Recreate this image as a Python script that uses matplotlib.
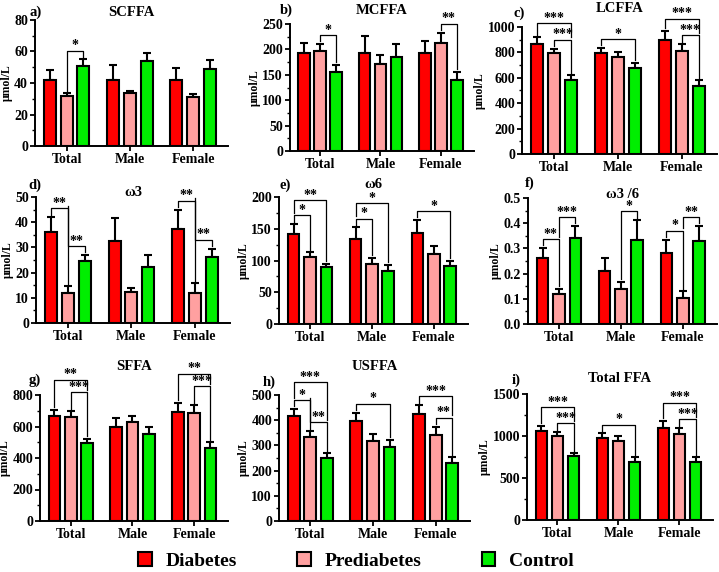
import numpy as np
import matplotlib
matplotlib.use('Agg')
import matplotlib.pyplot as plt
from matplotlib.patches import Patch
from matplotlib.ticker import MultipleLocator, FormatStrFormatter

plt.rcParams['font.family'] = ['Liberation Serif', 'DejaVu Serif']
plt.rcParams['font.weight'] = 'bold'

groups = ['Total', 'Male', 'Female']
series = ['Diabetes', 'Prediabetes', 'Control']
colors = ['#FF0000', '#FFA0A0', '#00EE00']

# means[group][series], sem[group][series]
scffa_mean = [[42, 32, 51], [42, 33.5, 54], [42, 31, 49]]
scffa_sem = [[6, 1.5, 4], [9.5, 1.5, 5], [7.5, 2, 5.5]]
mcffa_mean = [[192, 196, 156], [192, 172, 185], [192, 212, 140]]
mcffa_sem = [[21, 15, 14], [35, 16, 26], [25, 21, 16]]
lcffa_mean = [[870, 795, 585], [795, 765, 680], [900, 810, 535]]
lcffa_sem = [[50, 35, 35], [40, 40, 40], [70, 55, 45]]
w3_mean = [[36, 12, 24.5], [32.5, 12.3, 22.3], [37.5, 12, 26]]
w3_sem = [[6, 2.5, 2.5], [9, 1.5, 4.7], [7.5, 3.8, 3.5]]
w6_mean = [[142, 105, 89], [134, 95, 84], [144, 111, 91]]
w6_sem = [[15, 8, 6], [18, 9, 9], [20, 12, 9]]
ratio_mean = [[0.262, 0.12, 0.342], [0.212, 0.14, 0.335], [0.28, 0.103, 0.33]]
ratio_sem = [[0.04, 0.02, 0.048], [0.05, 0.028, 0.077], [0.055, 0.027, 0.06]]
sffa_mean = [[665, 660, 495], [600, 630, 555], [695, 685, 462]]
sffa_sem = [[40, 38, 27], [55, 38, 45], [55, 50, 38]]
usffa_mean = [[418, 333, 250], [395, 317, 292], [425, 343, 230]]
usffa_sem = [[27, 24, 18], [35, 28, 30], [35, 32, 22]]
tffa_mean = [[1065, 995, 760], [975, 945, 695], [1100, 1025, 695]]
tffa_sem = [[60, 50, 35], [55, 55, 50], [80, 70, 50]]

# significance: (group, bar i, bar j, label)
scffa_sig = [(0, 1, 2, '*')]
mcffa_sig = [(0, 1, 2, '*'), (2, 1, 2, '**')]
lcffa_sig = [(0, 1, 2, '***'), (0, 0, 2, '***'), (1, 0, 2, '*'), (2, 1, 2, '***'), (2, 0, 2, '***')]
w3_sig = [(0, 0, 1, '**'), (0, 1, 2, '**'), (2, 0, 1, '**'), (2, 1, 2, '**')]
w6_sig = [(0, 0, 1, '*'), (0, 0, 2, '**'), (1, 0, 1, '*'), (1, 0, 2, '*'), (2, 0, 2, '*')]
ratio_sig = [(0, 0, 1, '**'), (0, 1, 2, '***'), (1, 1, 2, '*'), (2, 0, 1, '*'), (2, 1, 2, '**')]
sffa_sig = [(0, 1, 2, '***'), (0, 0, 2, '**'), (2, 1, 2, '***'), (2, 0, 2, '**')]
usffa_sig = [(0, 0, 1, '*'), (0, 1, 2, '**'), (0, 0, 2, '***'), (1, 0, 2, '*'), (2, 1, 2, '**'), (2, 0, 2, '***')]
tffa_sig = [(0, 1, 2, '***'), (0, 0, 2, '***'), (1, 0, 2, '*'), (2, 1, 2, '***'), (2, 0, 2, '***')]

W, H = 719, 572

# (label, title, mean, sem, sig, ymax, ystep, rect px (l, t, r, b), title y px, label xy px, pad, step)
panels = [
    ('a)', 'SCFFA', scffa_mean, scffa_sem, scffa_sig, 80, 20, (35, 20, 228, 146), 12, (30, 12), 0.07, 0.13),
    ('b)', 'MCFFA', mcffa_mean, mcffa_sem, mcffa_sig, 250, 50, (290, 24, 474, 151), 11, (280, 10), 0.07, 0.13),
    ('c)', 'LCFFA', lcffa_mean, lcffa_sem, lcffa_sig, 1000, 200, (522, 27, 717, 154), 8, (513, 13), 0.07, 0.13),
    ('d)', 'ω3', w3_mean, w3_sem, w3_sig, 50, 10, (36, 197, 230, 323), 193, (28, 185), 0.07, 0.13),
    ('e)', 'ω6', w6_mean, w6_sem, w6_sig, 200, 50, (279, 197, 468, 324), 184, (279, 185), 0.07, 0.12),
    ('f)', 'ω3 /6', ratio_mean, ratio_sem, ratio_sig, 0.5, 0.1, (528, 198, 717, 324), 195, (525, 183), 0.07, 0.13),
    ('g)', 'SFFA', sffa_mean, sffa_sem, sffa_sig, 800, 200, (40, 395, 228, 521), 367, (29, 380), 0.15, 0.10),
    ('h)', 'USFFA', usffa_mean, usffa_sem, usffa_sig, 500, 100, (279, 395, 470, 521), 367, (263, 382), 0.07, 0.14),
    ('i)', 'Total FFA', tffa_mean, tffa_sem, tffa_sig, 1500, 500, (527, 394, 713, 520), 378, (512, 380), 0.07, 0.13),
]

fig = plt.figure(figsize=(W / 100, H / 100), dpi=100)

offsets = np.array([-0.265, 0, 0.265])
bw = 0.19
x = np.arange(len(groups))

for lab, title, mean, sem, sig, ymax, ystep, rect, ty, lxy, pad, stp in panels:
    l, t, r, b = rect
    ax = fig.add_axes([l / W, 1 - b / H, (r - l) / W, (b - t) / H])
    mean = np.array(mean)
    sem = np.array(sem)
    for k in range(3):
        xs = x + offsets[k]
        ax.bar(xs, mean[:, k], bw, color=colors[k], edgecolor='black', linewidth=1.5, zorder=2)
        ax.errorbar(xs, mean[:, k], yerr=[np.zeros(3), sem[:, k]], fmt='none', ecolor='black',
                    elinewidth=1.5, capsize=3, capthick=1.5, zorder=1)
    tops = mean + sem

    # significance brackets
    step = stp * ymax
    small = 0.02 * ymax
    placed = {}
    for g, i, j, s in sig:
        prev = placed.get(g, [])
        lev = tops[g, i:j + 1].max() + pad * ymax
        for (pi, pj, pl) in prev:
            if pi >= i and pj <= j:
                lev = max(lev, pl + step)
        legs = []
        for k in (i, j):
            bot = tops[g, k] + small
            for (pi, pj, pl) in prev:
                if pi <= k <= pj and (pi, pj) != (i, j):
                    bot = max(bot, pl + small)
            legs.append(bot)
        x1, x2 = x[g] + offsets[i], x[g] + offsets[j]
        ax.plot([x1, x1, x2, x2], [legs[0], lev, lev, legs[1]], color='black', lw=0.9,
                clip_on=False, zorder=3)
        ax.annotate(s, ((x1 + x2) / 2, lev), xytext=(0, 1), textcoords='offset points',
                    ha='center', va='baseline', fontsize=10, fontweight='bold', annotation_clip=False)
        placed.setdefault(g, []).append((i, j, lev))

    ax.set_xlim(-0.5, 2.55)
    ax.set_ylim(0, ymax)
    ax.set_xticks(x)
    ax.set_xticklabels(groups)
    ax.yaxis.set_major_locator(MultipleLocator(ystep))
    ax.yaxis.set_minor_locator(MultipleLocator(ystep / 2))
    if ymax < 1:
        ax.yaxis.set_major_formatter(FormatStrFormatter('%.1f'))
    for sp in ['top', 'right']:
        ax.spines[sp].set_visible(False)
    for sp in ['left', 'bottom']:
        ax.spines[sp].set_linewidth(1.4)
    ax.tick_params(axis='both', which='major', labelsize=10, width=1.3, length=3.5, pad=1.5)
    ax.tick_params(axis='y', which='minor', width=1.0, length=2.2)
    ax.set_ylabel('μmol/L', fontsize=8.5, fontweight='bold', labelpad=1)

    fig.text((l + r) / 2 / W, 1 - ty / H, title, ha='center', va='center', fontsize=10.5, fontweight='bold')
    fig.text(lxy[0] / W, 1 - lxy[1] / H, lab, ha='left', va='center', fontsize=10.5, fontweight='bold')

handles = [Patch(facecolor=c, edgecolor='black', linewidth=1.5, label=n) for c, n in zip(colors, series)]
fig.legend(handles=handles, ncol=3, loc='center', bbox_to_anchor=(0.495, 1 - 561 / H), frameon=False,
           prop={'size': 14, 'weight': 'bold'}, handlelength=0.7, handleheight=0.7,
           columnspacing=3.1, handletextpad=0.7)

fig.savefig('out.png', dpi=100)
